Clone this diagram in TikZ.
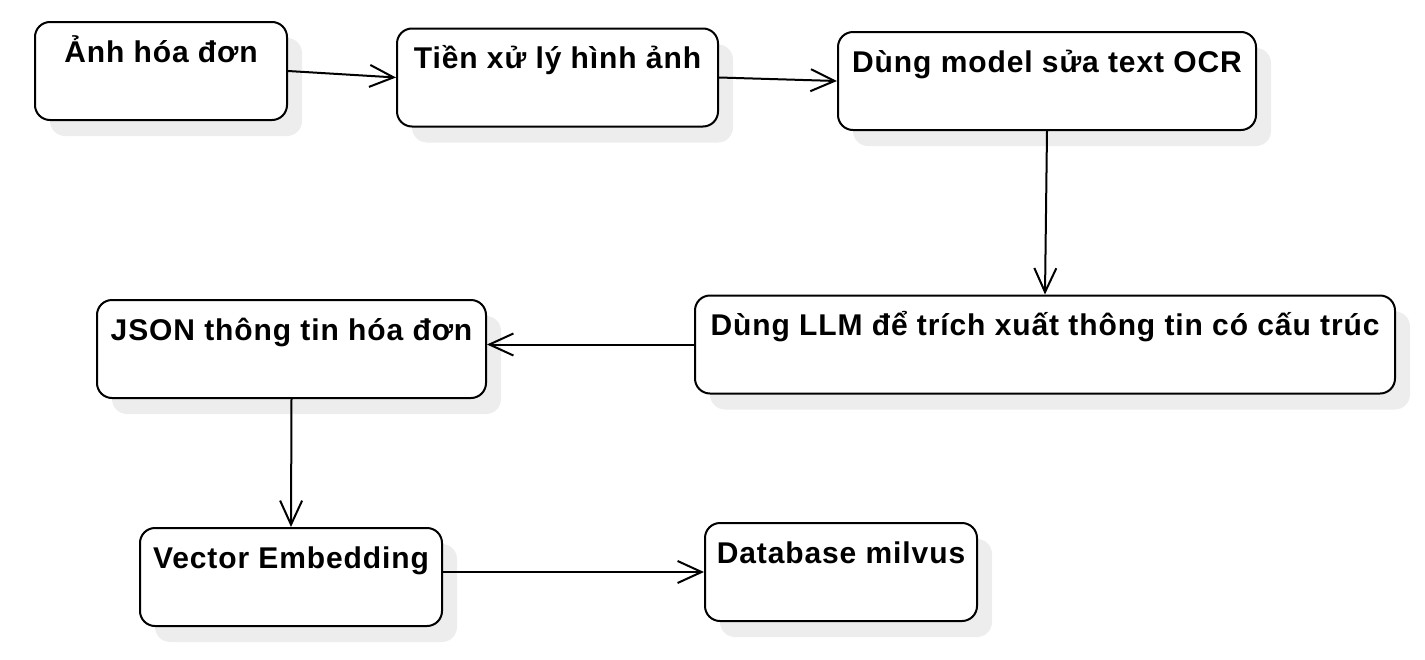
\documentclass[tikz,border=0pt]{standalone}
\usepackage{fontspec}
\setmainfont{Liberation Sans}[LetterSpace=3]
\usetikzlibrary{arrows.meta,shadows}
\begin{document}
\begin{tikzpicture}[x=1pt,y=-1pt,
  box/.style={draw=black, line width=2pt, rounded corners=15pt, fill=white,
    inner xsep=0pt, inner ysep=0pt, text height=40pt, text depth=58pt,
    font=\fontsize{30}{32}\selectfont\bfseries,
    drop shadow={shadow xshift=15pt, shadow yshift=-16pt, fill=black!7, opacity=1, draw=none}},
  conn/.style={line width=2pt, -{Straight Barb[length=24pt,width=22pt,line width=2pt]}}
]
\useasboundingbox (0,0) rectangle (1425,659);
\node[box, minimum width=252pt] (b1) at (161,71) {Ảnh hóa đơn};
\node[box, minimum width=321pt] (b2) at (557.5,77.5) {Tiền xử lý hình ảnh};
\node[box, minimum width=418pt] (b3) at (1047,81) {Dùng model sửa text OCR};
\node[box, minimum width=700pt] (b4) at (1045,344.5) {Dùng LLM để trích xuất thông tin có cấu trúc};
\node[box, minimum width=389pt] (b5) at (291.5,349) {JSON thông tin hóa đơn};
\node[box, minimum width=302pt] (b6) at (291,577) {Vector Embedding};
\node[box, minimum width=272pt] (b7) at (841,572) {Database milvus};
\draw[conn] (b1.east) -- (b2.west);
\draw[conn] (b2.east) -- (b3.west);
\draw[conn] (b3.south) -- (b4.north);
\draw[conn] (b4.west) -- (b5.east |- b4.west);
\draw[conn] (b5.south) -- (b6.north);
\draw[conn] (b6.east |- b7.west) -- (b7.west);
\end{tikzpicture}
\end{document}
